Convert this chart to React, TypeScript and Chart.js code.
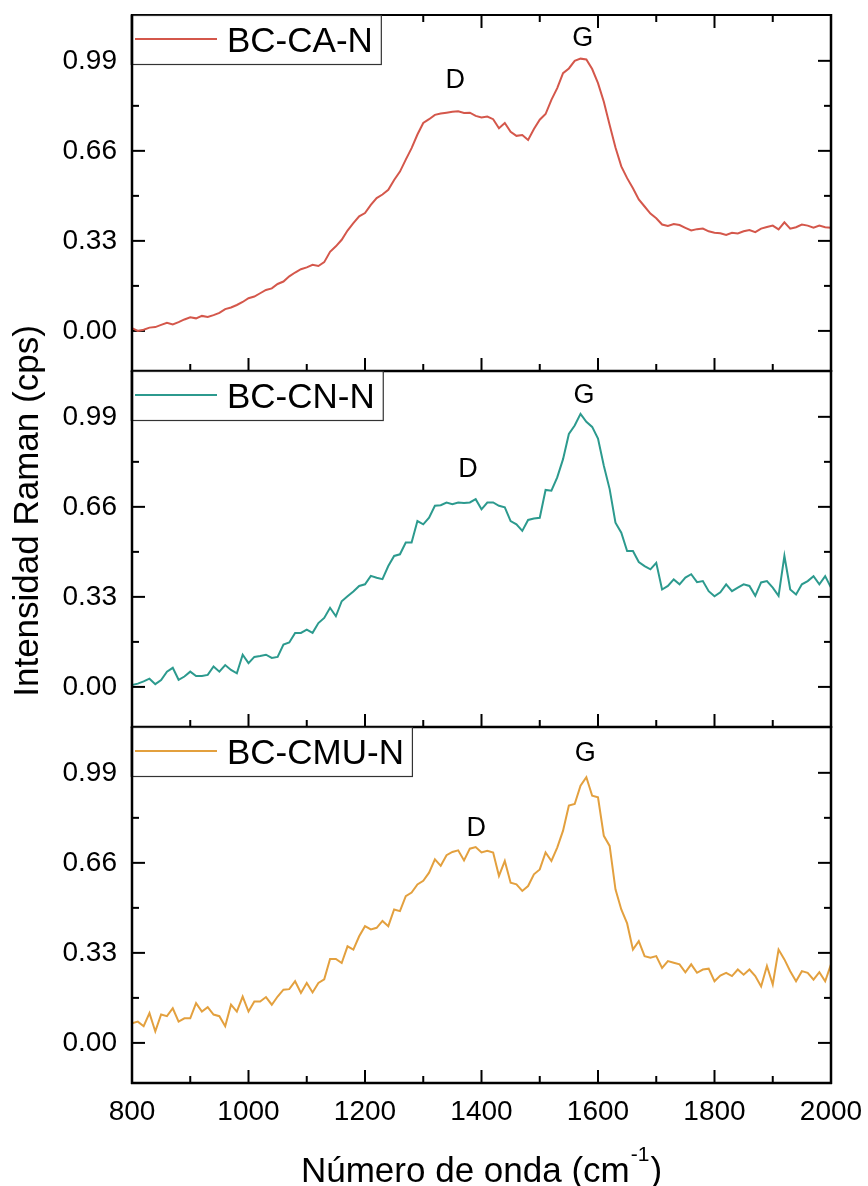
import React, { useEffect, useRef } from "react";
import { Chart, registerables } from "chart.js";

Chart.register(...registerables);

const FONT = "Arial, 'Liberation Sans', sans-serif";

const wavenumbers = [
  800, 810, 820, 830, 840, 850, 860, 870, 880, 890,
  900, 910, 920, 930, 940, 950, 960, 970, 980, 990,
  1000, 1010, 1020, 1030, 1040, 1050, 1060, 1070, 1080, 1090,
  1100, 1110, 1120, 1130, 1140, 1150, 1160, 1170, 1180, 1190,
  1200, 1210, 1220, 1230, 1240, 1250, 1260, 1270, 1280, 1290,
  1300, 1310, 1320, 1330, 1340, 1350, 1360, 1370, 1380, 1390,
  1400, 1410, 1420, 1430, 1440, 1450, 1460, 1470, 1480, 1490,
  1500, 1510, 1520, 1530, 1540, 1550, 1560, 1570, 1580, 1590,
  1600, 1610, 1620, 1630, 1640, 1650, 1660, 1670, 1680, 1690,
  1700, 1710, 1720, 1730, 1740, 1750, 1760, 1770, 1780, 1790,
  1800, 1810, 1820, 1830, 1840, 1850, 1860, 1870, 1880, 1890,
  1900, 1910, 1920, 1930, 1940, 1950, 1960, 1970, 1980, 1990,
  2000,
];

const bcCaN = [
  0.010, 0.000, 0.004, 0.012, 0.014, 0.022, 0.030, 0.024, 0.032, 0.042,
  0.050, 0.046, 0.055, 0.051, 0.058, 0.066, 0.080, 0.086, 0.095, 0.106,
  0.120, 0.126, 0.138, 0.150, 0.156, 0.172, 0.181, 0.200, 0.214, 0.226,
  0.233, 0.242, 0.238, 0.252, 0.290, 0.310, 0.334, 0.368, 0.395, 0.420,
  0.432, 0.462, 0.487, 0.500, 0.517, 0.553, 0.584, 0.628, 0.670, 0.720,
  0.762, 0.776, 0.792, 0.797, 0.800, 0.803, 0.805, 0.799, 0.800, 0.788,
  0.782, 0.786, 0.776, 0.743, 0.762, 0.730, 0.715, 0.718, 0.700, 0.740,
  0.774, 0.795, 0.847, 0.890, 0.945, 0.962, 0.990, 0.998, 0.995, 0.960,
  0.908, 0.840, 0.755, 0.672, 0.603, 0.560, 0.523, 0.482, 0.456, 0.430,
  0.413, 0.390, 0.385, 0.392, 0.388, 0.378, 0.368, 0.373, 0.375, 0.365,
  0.360, 0.358, 0.352, 0.360, 0.357, 0.365, 0.370, 0.362, 0.375, 0.381,
  0.386, 0.372, 0.398, 0.375, 0.380, 0.390, 0.386, 0.378, 0.386, 0.380,
  0.378,
];

const bcCnN = [
  0.007, 0.012, 0.020, 0.030, 0.010, 0.025, 0.056, 0.070, 0.026, 0.038,
  0.056, 0.040, 0.040, 0.044, 0.075, 0.056, 0.080, 0.062, 0.050, 0.118,
  0.087, 0.110, 0.113, 0.118, 0.106, 0.110, 0.155, 0.163, 0.198, 0.198,
  0.210, 0.198, 0.234, 0.253, 0.290, 0.259, 0.314, 0.332, 0.350, 0.370,
  0.376, 0.407, 0.400, 0.395, 0.443, 0.480, 0.486, 0.529, 0.529, 0.608,
  0.596, 0.620, 0.664, 0.666, 0.676, 0.670, 0.676, 0.674, 0.676, 0.688,
  0.651, 0.676, 0.676, 0.664, 0.658, 0.608, 0.596, 0.572, 0.612, 0.617,
  0.620, 0.722, 0.719, 0.768, 0.835, 0.927, 0.958, 1.001, 0.972, 0.953,
  0.910, 0.811, 0.725, 0.602, 0.565, 0.498, 0.498, 0.458, 0.443, 0.431,
  0.455, 0.357, 0.370, 0.394, 0.376, 0.401, 0.413, 0.384, 0.388, 0.351,
  0.332, 0.347, 0.376, 0.351, 0.364, 0.376, 0.370, 0.334, 0.383, 0.388,
  0.364, 0.334, 0.480, 0.357, 0.339, 0.376, 0.388, 0.406, 0.376, 0.406,
  0.364,
];

const bcCmuN = [
  0.072, 0.078, 0.061, 0.109, 0.042, 0.104, 0.098, 0.127, 0.078, 0.090,
  0.090, 0.146, 0.115, 0.131, 0.104, 0.098, 0.061, 0.140, 0.115, 0.170,
  0.115, 0.152, 0.152, 0.168, 0.140, 0.170, 0.195, 0.197, 0.226, 0.183,
  0.220, 0.185, 0.220, 0.233, 0.308, 0.308, 0.293, 0.354, 0.342, 0.391,
  0.428, 0.416, 0.422, 0.447, 0.428, 0.489, 0.483, 0.538, 0.551, 0.581,
  0.594, 0.624, 0.673, 0.649, 0.688, 0.700, 0.706, 0.669, 0.712, 0.718,
  0.698, 0.704, 0.698, 0.612, 0.667, 0.587, 0.581, 0.557, 0.575, 0.618,
  0.636, 0.698, 0.667, 0.716, 0.778, 0.870, 0.876, 0.943, 0.974, 0.906,
  0.900, 0.759, 0.722, 0.563, 0.489, 0.438, 0.342, 0.373, 0.318, 0.312,
  0.318, 0.275, 0.300, 0.294, 0.288, 0.259, 0.288, 0.257, 0.269, 0.272,
  0.226, 0.247, 0.257, 0.245, 0.269, 0.250, 0.269, 0.245, 0.207, 0.282,
  0.214, 0.342, 0.306, 0.263, 0.226, 0.263, 0.257, 0.232, 0.259, 0.226,
  0.288,
];

const seriesNames = ["BC-CA-N", "BC-CN-N", "BC-CMU-N"];
const seriesValues = [bcCaN, bcCnN, bcCmuN];
const seriesColors = ["#d4574b", "#2c9a8e", "#e3a03e"];

const xTickValues = [800, 1000, 1200, 1400, 1600, 1800, 2000];
const xMinorValues = [900, 1100, 1300, 1500, 1700, 1900];
const yTickValues = [0, 0.33, 0.66, 0.99];
const yMinorValues = [0.165, 0.495, 0.825];
const X_MIN = 800;
const X_MAX = 2000;
const Y_MIN = -0.147;
const Y_MAX = 1.158;

// Peak labels: [label, wavenumber, intensity] per panel
const peakLabels = [
  [["D", 1355, 0.891], ["G", 1574, 1.045]],
  [["D", 1377, 0.769], ["G", 1576, 1.041]],
  [["D", 1391, 0.758], ["G", 1578, 1.034]],
];

const yTitle = "Intensidad Raman (cps)";
const xTitleMain = "Número de onda (cm";
const xTitleSup = "-1";
const xTitleEnd = ")";

const W = 868;
const H = 1186;
const PANEL_TOPS = [15, 371, 727];
const PANEL_BOTTOMS = [371, 727, 1083];
const PLOT_LEFT = 132;
const PLOT_RIGHT = 831;
const X_AXIS_H = 60;
const TICK_FONT = 28;

function makePlugin(idx: number) {
  const seg = (ctx: CanvasRenderingContext2D, x1: number, y1: number, x2: number, y2: number) => {
    ctx.beginPath();
    ctx.moveTo(x1, y1);
    ctx.lineTo(x2, y2);
    ctx.stroke();
  };
  return {
    id: "decor" + idx,
    beforeDatasetsDraw(chart: any) {
      const ctx = chart.ctx as CanvasRenderingContext2D;
      const { left, right, top, bottom } = chart.chartArea;
      const xs = chart.scales.x;
      const ys = chart.scales.y;
      ctx.save();
      ctx.strokeStyle = "#000";
      ctx.lineCap = "butt";
      ctx.lineWidth = 2;
      const major = 13;
      const minor = 7;
      yTickValues.forEach((v) => {
        const p = ys.getPixelForValue(v);
        seg(ctx, left, p, left + major, p);
        seg(ctx, right, p, right - major, p);
      });
      yMinorValues.forEach((v) => {
        const p = ys.getPixelForValue(v);
        seg(ctx, left, p, left + minor, p);
        seg(ctx, right, p, right - minor, p);
      });
      xTickValues.forEach((v) => {
        const p = xs.getPixelForValue(v);
        seg(ctx, p, bottom, p, bottom - major);
        if (idx === 0) seg(ctx, p, top, p, top + major);
      });
      xMinorValues.forEach((v) => {
        const p = xs.getPixelForValue(v);
        seg(ctx, p, bottom, p, bottom - minor);
        if (idx === 0) seg(ctx, p, top, p, top + minor);
      });
      ctx.restore();
    },
    afterDraw(chart: any) {
      const ctx = chart.ctx as CanvasRenderingContext2D;
      const { left, right, top, bottom } = chart.chartArea;
      const xs = chart.scales.x;
      const ys = chart.scales.y;
      ctx.save();
      ctx.strokeStyle = "#000";
      // frame
      ctx.lineWidth = 2;
      seg(ctx, left, top, right, top);
      ctx.lineWidth = 2.5;
      seg(ctx, left, top - 1, left, bottom + 1);
      seg(ctx, right, top - 1, right, bottom + 1);
      seg(ctx, left - 1, bottom, right + 1, bottom);

      // legend
      ctx.font = `35px ${FONT}`;
      const name = seriesNames[idx];
      const tw = ctx.measureText(name).width;
      const bw = 95 + tw + 8;
      const bh = 49;
      ctx.fillStyle = "#fff";
      ctx.fillRect(left, top, bw, bh);
      ctx.lineWidth = 1.2;
      ctx.strokeStyle = "#333";
      ctx.strokeRect(left + 0.5, top + 0.5, bw, bh);
      ctx.lineWidth = 2.5;
      ctx.strokeStyle = "#000";
      seg(ctx, left, top, left, top + bh + 1);
      ctx.strokeStyle = seriesColors[idx];
      ctx.lineWidth = 2;
      seg(ctx, left + 3, top + 24, left + 85, top + 24);
      ctx.fillStyle = "#000";
      ctx.textAlign = "left";
      ctx.textBaseline = "alphabetic";
      ctx.fillText(name, left + 95, top + 37);

      // peak labels
      ctx.font = `27px ${FONT}`;
      ctx.textAlign = "center";
      (peakLabels[idx] as any[]).forEach((a) => {
        ctx.fillText(a[0], xs.getPixelForValue(a[1]), ys.getPixelForValue(a[2]));
      });

      if (idx === 2) {
        // y title
        ctx.save();
        ctx.font = `35px ${FONT}`;
        ctx.translate(38, 511);
        ctx.rotate(-Math.PI / 2);
        ctx.textAlign = "center";
        ctx.fillText(yTitle, 0, 0);
        ctx.restore();
        // x title
        ctx.font = `35px ${FONT}`;
        const w1 = ctx.measureText(xTitleMain).width;
        const w3 = ctx.measureText(xTitleEnd).width;
        ctx.font = `21px ${FONT}`;
        const w2 = ctx.measureText(xTitleSup).width;
        const cx = (left + right) / 2;
        const start = cx - (w1 + w2 + w3 + 2) / 2;
        const base = 1182;
        ctx.textAlign = "left";
        ctx.font = `35px ${FONT}`;
        ctx.fillText(xTitleMain, start, base);
        ctx.font = `21px ${FONT}`;
        ctx.fillText(xTitleSup, start + w1 + 1, base - 21);
        ctx.font = `35px ${FONT}`;
        ctx.fillText(xTitleEnd, start + w1 + w2 + 2, base);
      }
      ctx.restore();
    },
  };
}

function Panel({ idx }: { idx: number }) {
  const ref = useRef<HTMLCanvasElement | null>(null);
  useEffect(() => {
    if (!ref.current) return;
    const isBottom = idx === 2;
    const xh = isBottom ? X_AXIS_H : 0;
    const chart = new Chart(ref.current, {
      type: "line",
      data: {
        datasets: [
          {
            label: seriesNames[idx],
            data: wavenumbers.map((w, i) => ({ x: w, y: seriesValues[idx][i] })),
            borderColor: seriesColors[idx],
            backgroundColor: seriesColors[idx],
            borderWidth: 2,
            pointRadius: 0,
            tension: 0,
            fill: false,
          },
        ],
      },
      options: {
        responsive: false,
        animation: false,
        devicePixelRatio: 1,
        events: [],
        layout: {
          autoPadding: false,
          padding: {
            left: 0,
            right: W - PLOT_RIGHT,
            top: PANEL_TOPS[idx],
            bottom: H - PANEL_BOTTOMS[idx] - xh,
          },
        },
        plugins: {
          legend: { display: false },
          tooltip: { enabled: false },
        },
        scales: {
          x: {
            type: "linear",
            min: X_MIN,
            max: X_MAX,
            grid: { display: false, drawTicks: false },
            border: { display: false },
            ticks: {
              display: isBottom,
              font: { family: FONT, size: TICK_FONT },
              color: "#000",
              padding: 12,
              maxRotation: 0,
              autoSkip: false,
              callback: (v: any) => String(Math.round(Number(v))),
            },
            afterBuildTicks: (s: any) => {
              s.ticks = xTickValues.map((v) => ({ value: v }));
            },
            afterFit: (s: any) => {
              s.height = xh;
              s.paddingLeft = 0;
              s.paddingRight = 0;
            },
          },
          y: {
            type: "linear",
            min: Y_MIN,
            max: Y_MAX,
            grid: { display: false, drawTicks: false },
            border: { display: false },
            ticks: {
              font: { family: FONT, size: TICK_FONT },
              color: "#000",
              padding: 15,
              callback: (v: any) => Number(v).toFixed(2),
            },
            afterBuildTicks: (s: any) => {
              s.ticks = yTickValues.map((v) => ({ value: v }));
            },
            afterFit: (s: any) => {
              s.width = PLOT_LEFT;
              s.paddingTop = 0;
              s.paddingBottom = 0;
            },
          },
        },
      } as any,
      plugins: [makePlugin(idx)],
    });
    return () => chart.destroy();
  }, [idx]);
  return (
    <canvas
      ref={ref}
      width={W}
      height={H}
      style={{ position: "absolute", left: 0, top: 0, width: W, height: H }}
    />
  );
}

export default function App() {
  useEffect(() => {
    document.body.style.margin = "0";
  }, []);
  return (
    <div
      style={{
        position: "absolute",
        left: 0,
        top: 0,
        width: W,
        height: H,
        background: "#fff",
        overflow: "hidden",
      }}
    >
      <Panel idx={0} />
      <Panel idx={1} />
      <Panel idx={2} />
    </div>
  );
}
